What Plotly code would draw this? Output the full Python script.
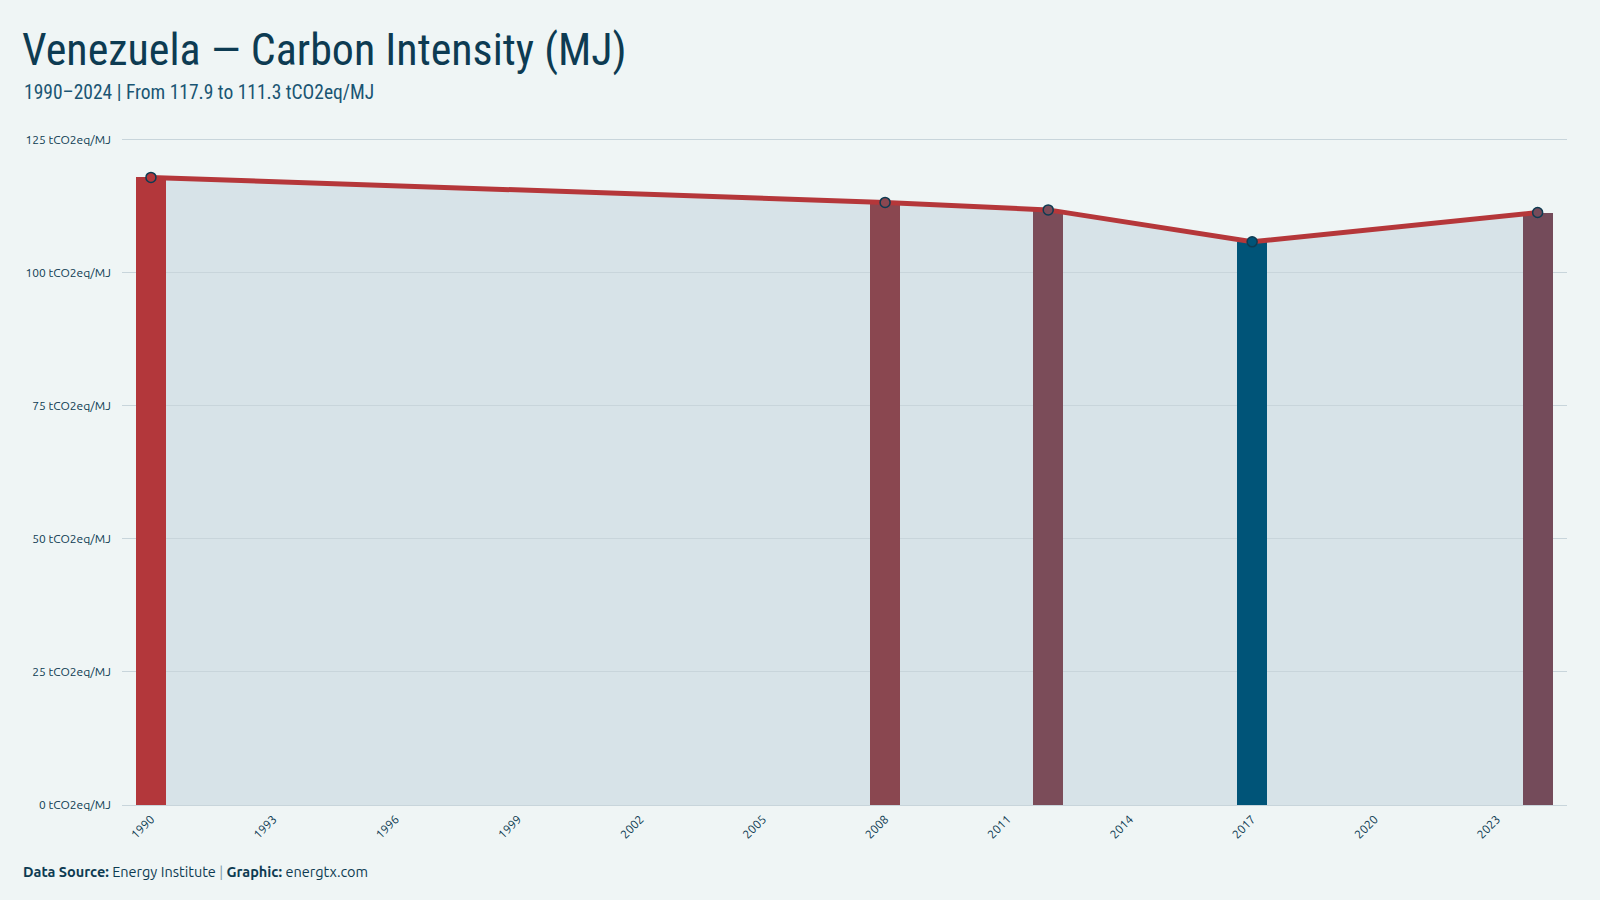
import plotly.graph_objects as go

years = [1990, 2008, 2012, 2017, 2024]
values = [117.9, 113.2, 111.8, 105.8, 111.3]
bar_colors = ["#b3373b", "#8a4750", "#7b4c59", "#005478", "#744b5a"]
y_ticks = [0, 25, 50, 75, 100, 125]
y_tick_labels = [f"{v} tCO2eq/MJ" for v in y_ticks]
x_ticks = list(range(1990, 2024, 3))

BG = "#eff5f5"
DARK = "#0d3b52"
FONT = "Ubuntu, 'Noto Sans', 'Open Sans', sans-serif"
COND = "'Ubuntu Condensed', 'Roboto Condensed', 'Liberation Sans Narrow', 'DejaVu Sans Condensed', 'Open Sans Condensed', Roboto, sans-serif"

fig = go.Figure()

fig.add_trace(go.Bar(
    x=years, y=values, width=0.73,
    marker=dict(color=bar_colors, line=dict(width=0)),
    hoverinfo="skip", showlegend=False,
))
fig.add_trace(go.Scatter(
    x=years, y=values, mode="lines+markers",
    line=dict(color="#b5373a", width=5),
    marker=dict(size=10, color=bar_colors, line=dict(color=DARK, width=1.5)),
    showlegend=False,
))

# area under the line, drawn beneath gridlines
path = "M {} 0 ".format(years[0]) + " ".join(f"L {x} {y}" for x, y in zip(years, values)) + f" L {years[-1]} 0 Z"
fig.add_shape(type="path", path=path, xref="x", yref="y",
              fillcolor="#d7e3e8", line=dict(width=0), layer="below")

L, R, T, B = 122, 33, 113, 95
W, H = 1600, 900
pw, ph = W - L - R, H - T - B

def px_x(px):
    return (px - L) / pw

def px_y(py):
    return (H - B - py) / ph

fig.update_layout(
    width=W, height=H,
    margin=dict(l=L, r=R, t=T, b=B),
    paper_bgcolor=BG, plot_bgcolor=BG,
    bargap=0,
    title=dict(
        text="Venezuela — Carbon Intensity (MJ)",
        font=dict(family=COND, size=44, color=DARK),
        x=22 / W, xanchor="left", xref="container",
        y=1 - 50 / H, yanchor="middle", yref="container",
    ),
    xaxis=dict(
        range=[1989.29, 2024.72],
        tickvals=x_ticks, ticktext=[str(v) for v in x_ticks],
        tickangle=-45, tickfont=dict(family=FONT, size=12, color=DARK),
        showgrid=False, zeroline=False, showline=False,
        ticks="", ticklabelstandoff=4,
    ),
    yaxis=dict(
        range=[0, 130],
        tickvals=y_ticks, ticktext=y_tick_labels,
        tickfont=dict(family=FONT, size=12, color=DARK),
        showgrid=True, gridcolor="#c8d5db", gridwidth=1,
        zeroline=True, zerolinecolor="#c8d5db", zerolinewidth=1,
        showline=False, ticks="", ticklabelstandoff=10,
    ),
    annotations=[
        dict(text="1990–2024 | From 117.9 to 111.3 tCO2eq/MJ",
             xref="paper", yref="paper", x=px_x(22), y=px_y(93),
             xanchor="left", yanchor="middle", showarrow=False,
             font=dict(family=COND, size=19.5, color="#1a5573")),
        dict(text="<b>Data Source:</b> Energy Institute <span style='color:#7f9cab'>|</span> <b>Graphic:</b> energtx.com",
             xref="paper", yref="paper", x=px_x(21), y=px_y(871),
             xanchor="left", yanchor="middle", showarrow=False,
             font=dict(family=FONT, size=14.5, color=DARK)),
    ],
)

fig.write_html("out.html")
